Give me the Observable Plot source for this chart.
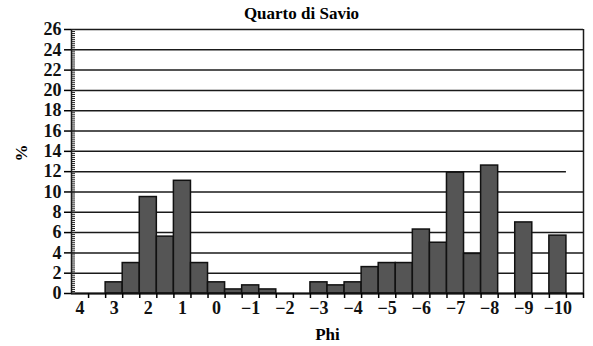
<!DOCTYPE html>
<html><head><meta charset="utf-8">
<script src="https://cdn.jsdelivr.net/npm/d3@7"></script>
<script src="https://cdn.jsdelivr.net/npm/@observablehq/plot@0.6"></script>
<style>
body{margin:0;background:#fff}
svg text{font-family:"Liberation Serif",serif !important}
</style>
</head><body><div id="chart"></div>
<script>
// Data
const phiBins = [4,3.5,3,2.5,2,1.5,1,0.5,0,-0.5,-1,-1.5,-2,-2.5,-3,-3.5,-4,-4.5,-5,-5.5,-6,-6.5,-7,-7.5,-8,-8.5,-9,-9.5,-10,-10.5];
const percents = [0,0,1.1,3.0,9.5,5.6,11.1,3.0,1.1,0.4,0.8,0.4,0,0,1.1,0.8,1.1,2.6,3.0,3.0,6.3,5.0,11.9,3.9,12.6,0,7.0,0,5.7,0];
const xTickLabels = [4,3,2,1,0,-1,-2,-3,-4,-5,-6,-7,-8,-9,-10];
const yTickLabels = [0,2,4,6,8,10,12,14,16,18,20,22,24,26];
const title = "Quarto di Savio";
const xLabel = "Phi";
const yLabel = "%";

const W = 593, H = 346, ML = 71, MR = 10, MT = 29, MB = 53;
const FONT = "Liberation Serif";
const half = 0.25;
const rows = phiBins.map((p, i) => ({phi: p, pct: percents[i]}));
const bars = rows.filter(d => d.pct > 0);
const xStart = phiBins[0] + half;
const xEnd = phiBins[phiBins.length - 1] - half;
const edges = phiBins.map(p => p - half);
const lastBarEdge = bars[bars.length - 1].phi - half;
const yMax = yTickLabels[yTickLabels.length - 1];
const minorY = d3.range(0, yMax + 1e-9, 0.2);
const fmt = d => d < 0 ? "\u2212" + (-d) : String(d);

const chart = Plot.plot({
  width: W,
  height: H,
  marginLeft: ML,
  marginRight: MR,
  marginTop: MT,
  marginBottom: MB,
  style: {fontFamily: FONT, fontSize: "17px", color: "#000", background: "#fff", overflow: "visible"},
  x: {type: "linear", domain: [xStart, xEnd], axis: null},
  y: {type: "linear", domain: [0, yMax], axis: null},
  marks: [
    Plot.ruleY(yTickLabels.filter(v => v !== 12), {stroke: "#1a1a1a", strokeWidth: 1.5}),
    Plot.ruleY([12], {x1: xStart, x2: lastBarEdge, stroke: "#1a1a1a", strokeWidth: 1.5}),
    Plot.rectY(bars, {x1: d => d.phi + half, x2: d => d.phi - half, y: "pct", fill: "#555555", stroke: "#111", strokeWidth: 1.5}),
    Plot.ruleX([xStart, xEnd], {y1: 0, y2: yMax, stroke: "#1a1a1a", strokeWidth: 1.5}),
    Plot.ruleY([0], {stroke: "#111", strokeWidth: 2}),
    Plot.axisY({anchor: "right", dx: -(W - ML - MR), ticks: minorY, tickSize: 3, tickFormat: () => "", strokeWidth: 1, stroke: "#222", label: null}),
    Plot.axisY({ticks: yTickLabels, tickSize: 7, tickPadding: 3, tickFormat: fmt, strokeWidth: 1.5, fontSize: 18, fontWeight: "bold", fontFamily: FONT, fill: "#111", label: null}),
    Plot.axisX({ticks: edges, tickSize: 5, tickFormat: () => "", strokeWidth: 1.5, label: null}),
    Plot.axisX({ticks: xTickLabels, tickSize: 0, tickPadding: 8, tickFormat: fmt, fontSize: 18, fontWeight: "bold", fontFamily: FONT, fill: "#111", label: null}),
    Plot.text([title], {frameAnchor: "top", dx: -26, dy: -11, lineAnchor: "bottom", fontWeight: "bold", fontSize: 17, fontFamily: FONT, fill: "#000"}),
    Plot.text([xLabel], {frameAnchor: "bottom", dy: 46, lineAnchor: "bottom", fontWeight: "bold", fontSize: 17, fontFamily: FONT, fill: "#000"}),
    Plot.text([yLabel], {frameAnchor: "left", dx: -50, rotate: -90, fontSize: 17, fontWeight: "bold", fontFamily: FONT, fill: "#000"})
  ]
});
document.getElementById("chart").appendChild(chart);
</script>
</body></html>
